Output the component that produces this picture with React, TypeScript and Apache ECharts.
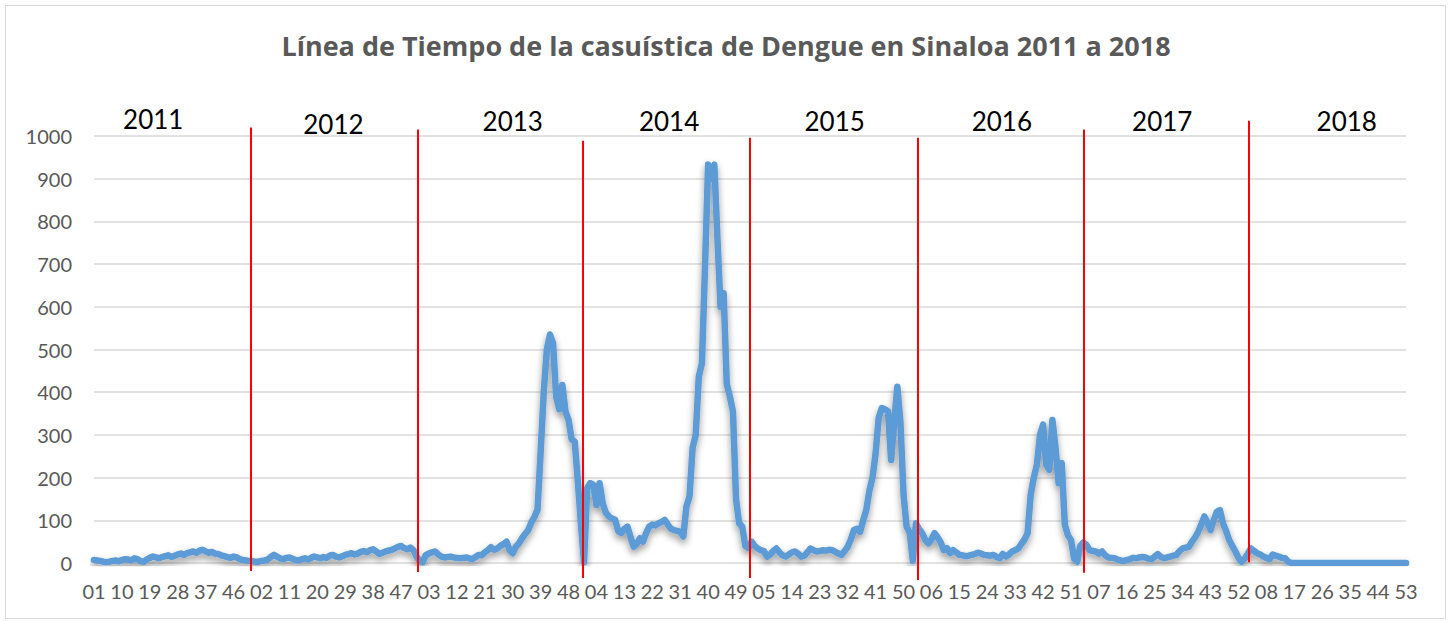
import React, { useEffect, useRef } from "react";
import * as echarts from "echarts";

const chartTitle = "Línea de Tiempo de la casuística de Dengue en Sinaloa 2011 a 2018";
const years = ["2011", "2012", "2013", "2014", "2015", "2016", "2017", "2018"];
const weeksPerYear = 53;

const cases2011 = [7,6,5,3,2,3,5,6,4,7,9,8,6,11,9,4,3,8,12,15,13,11,14,16,18,14,17,20,22,19,23,25,27,24,29,31,27,24,26,22,21,18,16,14,12,15,13,9,7,6,5,4,3];
const cases2012 = [3,5,6,8,14,19,15,11,9,12,13,10,7,6,9,11,8,12,15,13,11,14,12,17,19,15,13,16,19,21,23,20,22,26,28,25,30,32,27,21,24,27,29,31,34,38,40,35,32,36,30,15,4];
const cases2013 = [2,19,22,25,27,20,15,13,14,15,13,12,11,12,13,11,9,14,19,18,25,30,37,31,34,40,44,50,30,23,38,46,58,68,77,95,108,125,260,400,500,535,515,390,360,417,355,335,290,284,190,90,2];
const cases2014 = [175,187,183,136,187,140,118,109,104,101,75,70,80,85,60,38,45,58,50,70,85,90,88,93,96,101,90,80,77,75,73,62,132,156,270,300,437,468,695,933,900,933,760,600,632,420,390,355,150,93,85,40,35];
const cases2015 = [50,40,34,30,28,15,20,28,34,25,18,15,20,25,27,22,15,17,25,34,30,27,28,30,29,31,30,26,22,19,28,38,55,77,80,73,100,124,170,200,257,340,363,360,355,241,330,413,330,160,85,70,5];
const cases2016 = [93,80,70,54,46,55,70,60,48,30,35,23,30,25,19,18,16,17,19,21,24,22,19,18,17,19,14,11,21,15,20,27,30,34,45,55,70,160,200,230,300,324,230,218,335,270,187,234,90,65,54,10,3];
const cases2017 = [40,48,42,30,28,27,22,27,18,13,12,11,8,6,5,7,9,12,11,13,14,13,10,9,15,21,14,11,13,15,17,19,28,34,36,38,50,60,73,90,109,95,77,100,120,124,93,75,54,40,27,12,3];
const cases2018 = [10,22,34,28,23,20,15,12,9,20,17,15,12,11,3,0,0,0,0,0,0,0,0,0,0,0,0,0,0,0,0,0,0,0,0,0,0,0,0,0,0,0,0,0,0,0,0,0,0,0,0,0,0];

const yearlyCases = [cases2011, cases2012, cases2013, cases2014, cases2015, cases2016, cases2017, cases2018];

// Annotations: red separators (category position, top value, bottom value)
const separatorIdx = [50.6, 104.4, 157.8, 211.6, 265.6, 319.3, 372.5];
const separatorTop = [1020, 1015, 989, 996, 996, 1015, 1036];
const separatorBottom = [-19, -21, -35, -35, -40, -23, 2];

// Year labels (category position, value position)
const yearLabelIdx = [19.1, 77.2, 135, 185.4, 238.8, 292.7, 344.4, 403.9];
const yearLabelVal = [1039, 1027, 1036, 1036, 1036, 1036, 1036, 1034];

const weekLabels: string[] = [];
years.forEach(() => {
  for (let w = 1; w <= weeksPerYear; w++) weekLabels.push(String(w).padStart(2, "0"));
});
const seriesData: number[] = ([] as number[]).concat(...yearlyCases);

export default function App() {
  const ref = useRef<HTMLDivElement>(null);
  useEffect(() => {
    document.body.style.margin = "0";
    if (!ref.current) return;
    const chart = echarts.init(ref.current, undefined, { renderer: "svg" });
    const font = "Lato";
    chart.setOption({
      animation: false,
      backgroundColor: "#ffffff",
      title: {
        text: chartTitle,
        left: "center",
        top: 32,
        padding: 0,
        textStyle: { fontFamily: "Open Sans", fontWeight: "bold", fontSize: 27, color: "#595959" },
      },
      grid: { left: 94, right: 46, top: 136, bottom: 59 },
      xAxis: {
        type: "category",
        data: weekLabels,
        boundaryGap: false,
        axisLine: { show: false },
        axisTick: { show: false },
        axisLabel: { interval: 8, margin: 18, fontFamily: font, fontSize: 20, color: "#595959" },
        splitLine: { show: false },
      },
      yAxis: {
        type: "value",
        min: 0,
        max: 1000,
        interval: 100,
        axisLine: { show: false },
        axisTick: { show: false },
        axisLabel: {
          margin: 22,
          fontFamily: font,
          fontSize: 20,
          color: "#595959",
          formatter: (v: number) => String(v),
        },
        splitLine: { lineStyle: { color: "#d9d9d9", width: 1.5 } },
      },
      series: [
        {
          type: "line",
          data: seriesData,
          symbol: "none",
          showSymbol: false,
          lineStyle: {
            color: "#5B9BD5",
            width: 6.5,
            cap: "round",
            join: "round",
            shadowColor: "rgba(0,0,0,0.4)",
            shadowBlur: 7,
            shadowOffsetY: 4,
          },
          itemStyle: { color: "#5B9BD5" },
        },
      ],
    });

    const n = seriesData.length;
    const p0 = chart.convertToPixel({ xAxisIndex: 0 }, 0) as number;
    const p1 = chart.convertToPixel({ xAxisIndex: 0 }, n - 1) as number;
    const step = (p1 - p0) / (n - 1);
    const xAt = (idx: number) => p0 + idx * step;
    const yAt = (v: number) => chart.convertToPixel({ yAxisIndex: 0 }, v) as number;

    const graphics: any[] = [
      {
        type: "rect",
        silent: true,
        z: -10,
        shape: { x: 5.5, y: 5.5, width: 1440, height: 613 },
        style: { fill: "none", stroke: "#d9d9d9", lineWidth: 1 },
      },
    ];
    separatorIdx.forEach((idx, i) => {
      const x = Math.round(xAt(idx));
      graphics.push({
        type: "line",
        silent: true,
        z: 100,
        shape: { x1: x, y1: yAt(separatorTop[i]), x2: x, y2: yAt(separatorBottom[i]) },
        style: { stroke: "#FF0000", lineWidth: 2 },
      });
    });
    yearLabelIdx.forEach((idx, i) => {
      graphics.push({
        type: "text",
        silent: true,
        z: 100,
        x: xAt(idx),
        y: yAt(yearLabelVal[i]),
        style: {
          text: years[i],
          fontFamily: font,
          fontSize: 26,
          fill: "#000000",
          align: "center",
          verticalAlign: "middle",
          textAlign: "center",
          textVerticalAlign: "middle",
        },
      });
    });
    chart.setOption({ graphic: { elements: graphics } });

    return () => chart.dispose();
  }, []);
  return <div ref={ref} style={{ width: 1452, height: 622 }} />;
}
